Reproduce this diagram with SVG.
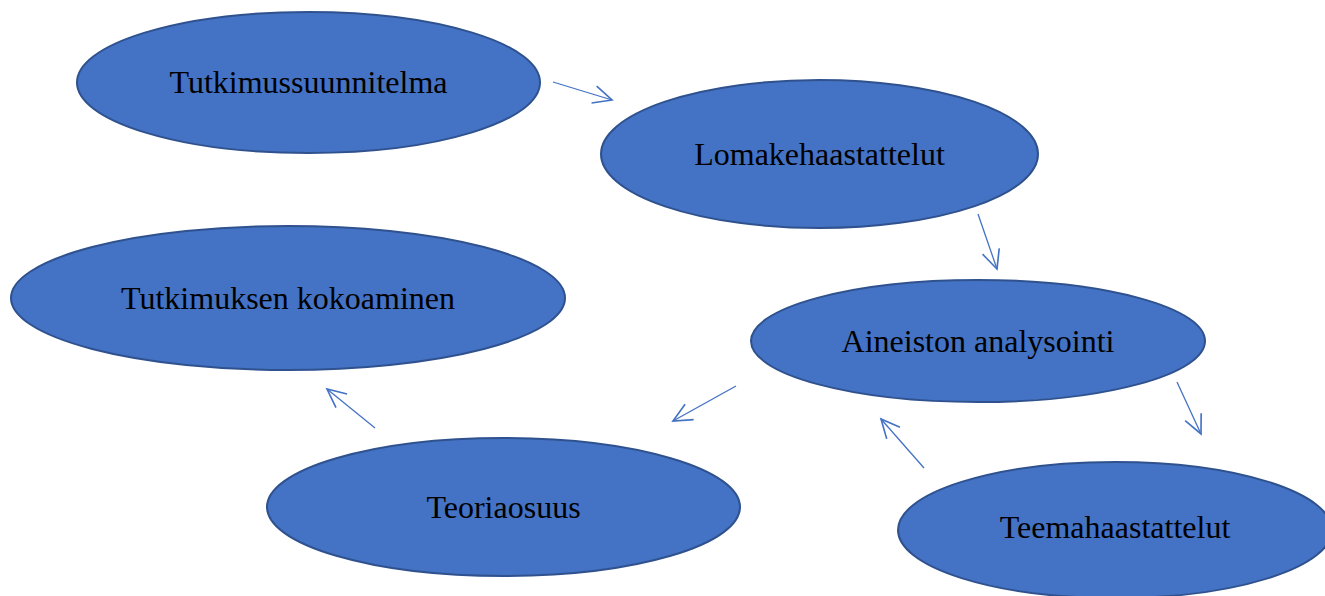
<svg xmlns="http://www.w3.org/2000/svg" width="1325" height="596" viewBox="0 0 1325 596">
<style>
.n{fill:#4472C4;stroke:#2F528F;stroke-width:2}
.t{font-family:"Liberation Serif","Times New Roman",serif;font-size:32px;fill:#000;text-anchor:middle}
.c{stroke:#4472C4;stroke-width:1.3;fill:none}
</style>
<defs>
<marker id="a" markerUnits="userSpaceOnUse" markerWidth="22" markerHeight="22" refX="18" refY="9" orient="auto" viewBox="0 0 20 18">
<path d="M1,1 L18,9 L1,17" fill="none" stroke="#4472C4" stroke-width="1.5"/>
</marker>
</defs>
<rect width="1325" height="596" fill="#fff"/>
<g id="n1"><ellipse class="n" cx="308.5" cy="82.5" rx="231.5" ry="70.5"/><text class="t" x="308.5" y="93">Tutkimussuunnitelma</text></g>
<g id="n2"><ellipse class="n" cx="819.5" cy="154" rx="218.5" ry="74"/><text class="t" x="819.5" y="165">Lomakehaastattelut</text></g>
<g id="n3"><ellipse class="n" cx="288" cy="298" rx="277" ry="72"/><text class="t" x="288" y="309">Tutkimuksen kokoaminen</text></g>
<g id="n4"><ellipse class="n" cx="978" cy="341" rx="227" ry="61"/><text class="t" x="978" y="352">Aineiston analysointi</text></g>
<g id="n5"><ellipse class="n" cx="503.5" cy="507" rx="236.5" ry="69"/><text class="t" x="503.5" y="518">Teoriaosuus</text></g>
<g id="n6"><ellipse class="n" cx="1115" cy="530" rx="217" ry="68"/><text class="t" x="1115" y="538">Teemahaastattelut</text></g>
<g id="connectors">
<line class="c" x1="553" y1="82" x2="612" y2="100" marker-end="url(#a)"/>
<line class="c" x1="978" y1="214" x2="997" y2="269" marker-end="url(#a)"/>
<line class="c" x1="736" y1="386" x2="673" y2="421" marker-end="url(#a)"/>
<line class="c" x1="1177" y1="382" x2="1201" y2="434" marker-end="url(#a)"/>
<line class="c" x1="924" y1="468" x2="881" y2="419" marker-end="url(#a)"/>
<line class="c" x1="375" y1="428" x2="327" y2="389" marker-end="url(#a)"/>
</g>
</svg>
